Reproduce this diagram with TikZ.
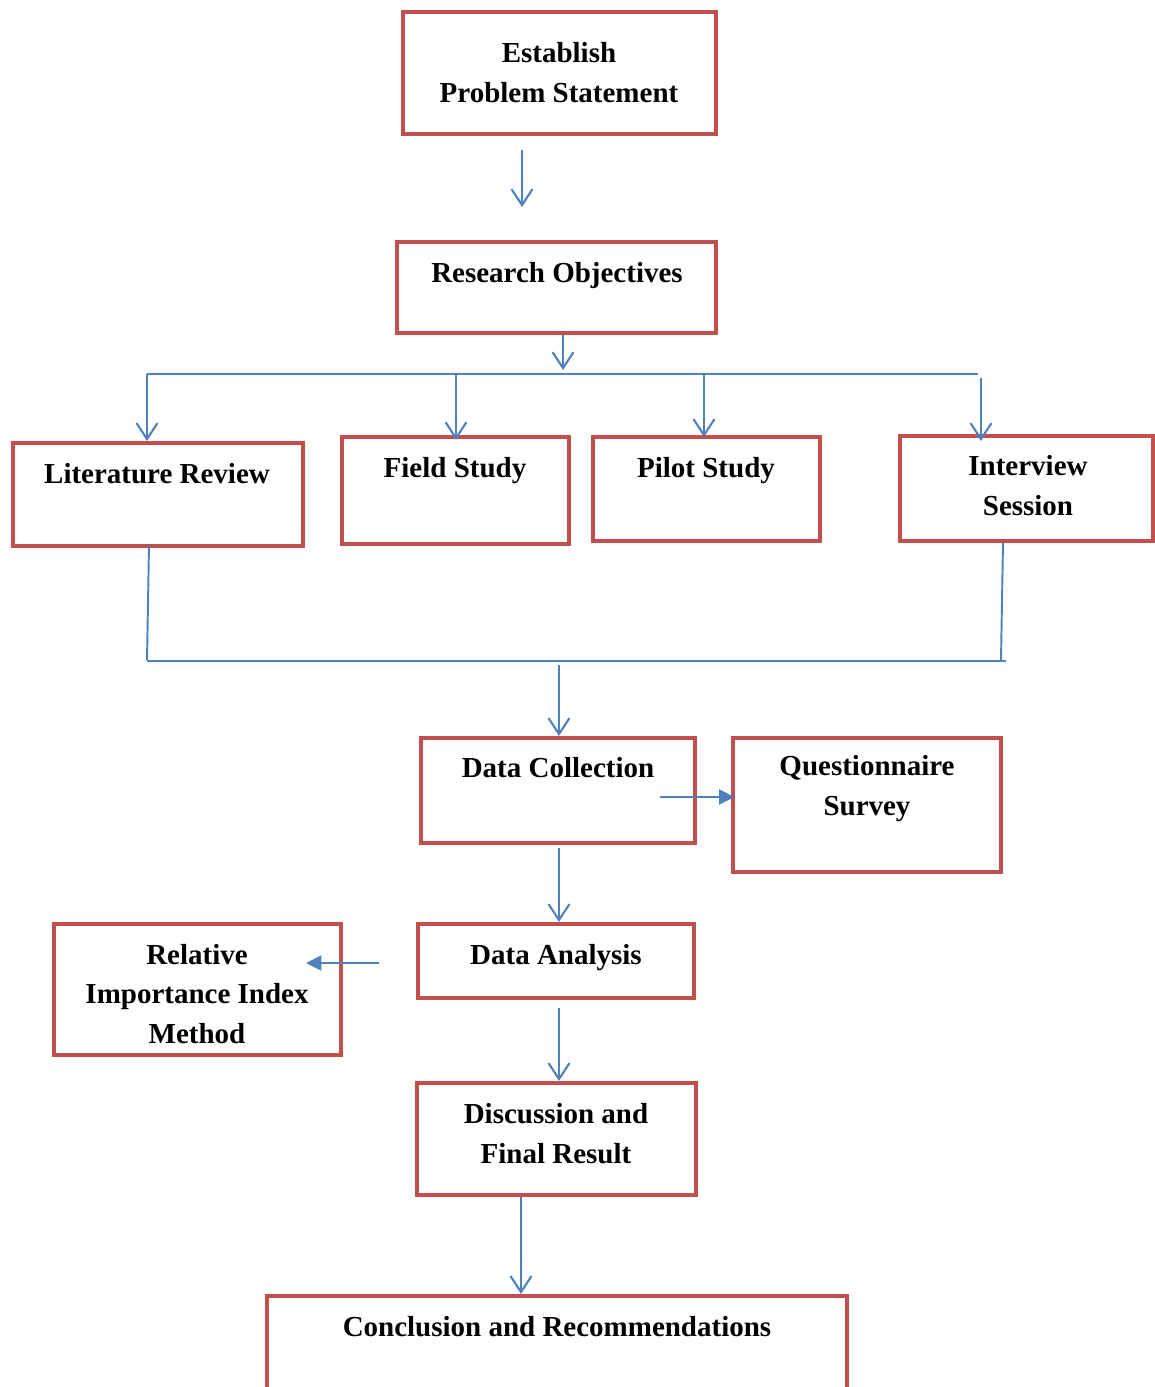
\documentclass[tikz,border=0pt]{standalone}
\usepackage{fontspec}
\setmainfont{Liberation Serif}
\usetikzlibrary{arrows.meta,fit}
\definecolor{boxred}{HTML}{C0504D}
\definecolor{arrblue}{HTML}{4F81BD}
\begin{document}
\begin{tikzpicture}[x=0.02cm,y=-0.02cm,
  box/.style={draw=boxred,line width=2.3pt,inner sep=0pt,rectangle},
  txt/.style={font=\fontsize{16.5}{22.7}\selectfont\bfseries,align=center,inner sep=0pt},
  arr/.style={draw=arrblue,line width=1.2pt,-{Straight Barb[length=0.32cm,width=0.42cm]}},
  farr/.style={draw=arrblue,line width=1.4pt,-{Triangle[length=0.31cm,width=0.3cm]}},
  ln/.style={draw=arrblue,line width=1.1pt}]
\useasboundingbox (0,0) rectangle (1155,1387);
\clip (0,0) rectangle (1155,1387);
% boxes
\node[box,fit={(403,12)(716,134)}] (ps) {};
\node[box,fit={(397,242)(716,333)}] (ro) {};
\node[box,fit={(13,443)(303,546)}] (lr) {};
\node[box,fit={(342,437)(569,544)}] (fs) {};
\node[box,fit={(593,437)(820,541)}] (pl) {};
\node[box,fit={(900,436)(1153,541)}] (is) {};
\node[box,fit={(421,738)(695,843)}] (dc) {};
\node[box,fit={(733,738)(1001,872)}] (qs) {};
\node[box,fit={(418,924)(694,998)}] (da) {};
\node[box,fit={(54,924)(341,1055)}] (rii) {};
\node[box,fit={(417,1083)(696,1195)}] (dfr) {};
\node[box,fit={(267,1296)(847,1420)}] (cr) {};
% texts
\node[txt] (tps) at (559,73) {Establish\\Problem Statement};
\node[txt] (tro) at (557,276) {Research Objectives};
\node[txt] (tlr) at (157,474) {Literature Review};
\node[txt] (tfs) at (455,471) {Field Study};
\node[txt] (tpl) at (706,471) {Pilot Study};
\node[txt] (tis) at (1028,486) {Interview\\Session};
\node[txt] (tdc) at (558,768) {Data Collection};
\node[txt] (tqs) at (867,789) {Questionnaire\\Survey};
\node[txt] (tda) at (556,958) {Data Analysis};
\node[txt] (trii) at (197,994) {Relative\\Importance Index\\Method};
\node[txt] (tdfr) at (556,1134) {Discussion and\\Final Result};
\node[txt] (tcr) at (557,1327) {Conclusion and Recommendations};
% coordinates
\coordinate (a1s) at (522,150);
\coordinate (a1e) at (522,207);
\coordinate (a2s) at (563,335);
\coordinate (a2e) at (563,370);
\coordinate (hl) at (147,374);
\coordinate (hr) at (978,374);
\coordinate (bl) at (147,661);
\coordinate (br) at (1006,661);
\coordinate (bm) at (559,665);
\coordinate (dcs) at (559,848);
\coordinate (das) at (559,1008);
\coordinate (dfs) at (521,1197);
\coordinate (qa) at (660,797);
\coordinate (ra) at (379,963);
% connectors
\draw[arr] (a1s) -- (a1e);
\draw[arr] (a2s) -- (a2e);
\draw[ln] (hl) -- (hr);
\draw[arr] (hl) -- (lr.north -| hl);
\draw[arr] (456,374) -- (456,440);
\draw[arr] (704,374) -- (704,437);
\draw[arr] (981,378) -- (981,441);
\draw[ln] (149,546) -- (147,660);
\draw[ln] (1003,543) -- (1001,660);
\draw[ln] (bl) -- (br);
\draw[arr] (bm) -- (dc.north -| bm);
\draw[farr] (qa) -- ([xshift=2pt]qs.west |- qa);
\draw[arr] (dcs) -- (da.north -| dcs);
\draw[farr] (ra) -- (306,963);
\draw[arr] (das) -- (dfr.north -| das);
\draw[arr] (dfs) -- (cr.north -| dfs);
\end{tikzpicture}
\end{document}
